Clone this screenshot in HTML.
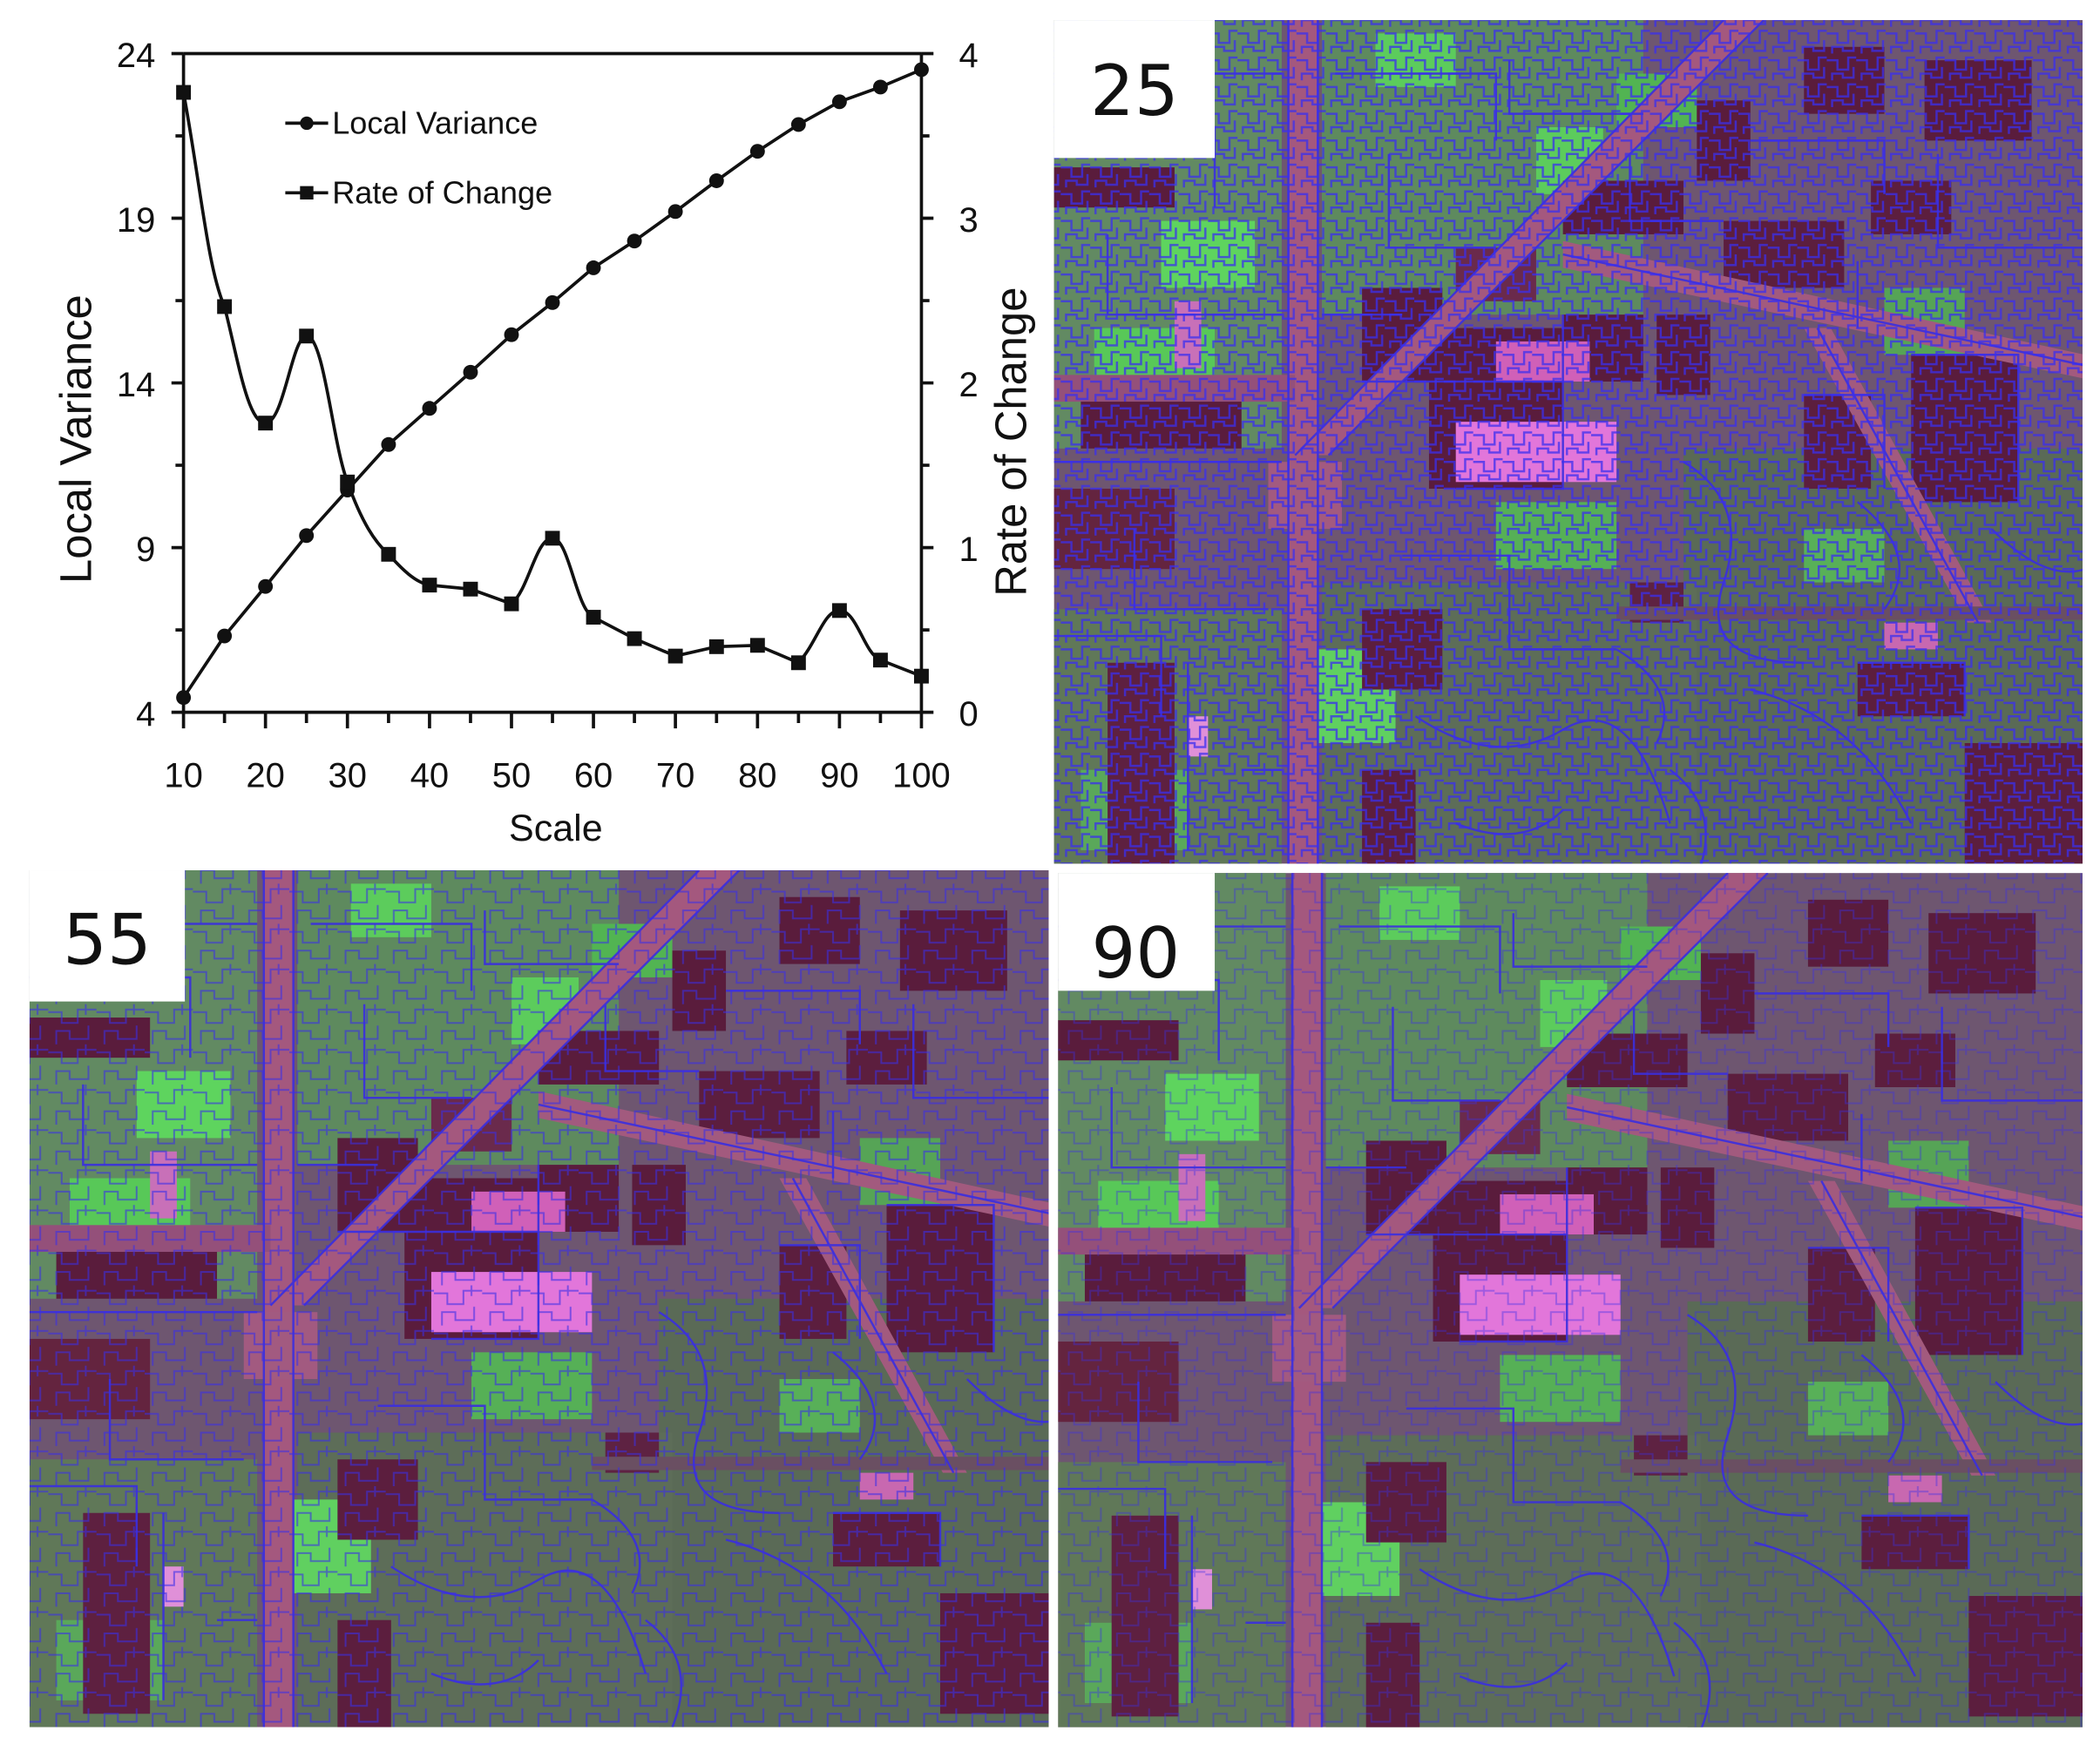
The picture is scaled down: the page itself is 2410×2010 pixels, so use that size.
<!DOCTYPE html>
<html><head><meta charset="utf-8"><style>
html,body{margin:0;padding:0;background:#fff;}
svg{display:block;}
text{font-family:"Liberation Sans",Arial,sans-serif;fill:#111;}
</style></head><body>
<svg width="2410" height="2010" viewBox="0 0 1568 1307.8" xmlns="http://www.w3.org/2000/svg">
<defs>
<pattern id="seg1" width="36" height="30" patternUnits="userSpaceOnUse">
  <path d="M0 6 H10 V14 H22 V4 H36 M6 30 V20 H16 V26 H30 V16 M28 0 V8" fill="none" stroke="#3a2ee8" stroke-width="1.3"/>
</pattern>
<pattern id="seg2" width="22" height="20" patternUnits="userSpaceOnUse">
  <path d="M0 5 H8 V12 H16 V3 H22 M4 20 V15 H12 V18 H20 V10" fill="none" stroke="#3a2ef0" stroke-width="1.6"/>
</pattern>
<g id="scene">
  <rect x="0" y="0" width="770" height="640" fill="#6e5670"/>
  <rect x="0" y="0" width="170" height="320" fill="#628a62"/>
  <rect x="200" y="0" width="240" height="220" fill="#5e8a5e"/>
  <rect x="470" y="320" width="300" height="320" fill="#5a6a56"/>
  <rect x="0" y="440" width="170" height="200" fill="#607858"/>
  <rect x="200" y="420" width="280" height="220" fill="#5d6d58"/>
  <rect x="80" y="150" width="70" height="50" fill="#5ed45e"/>
  <rect x="30" y="230" width="90" height="60" fill="#58c858"/>
  <rect x="360" y="80" width="50" height="50" fill="#5ccc5c"/>
  <rect x="240" y="10" width="60" height="40" fill="#5ccc5c"/>
  <rect x="195" y="470" width="60" height="70" fill="#60d060"/>
  <rect x="420" y="40" width="60" height="40" fill="#52b452"/>
  <rect x="330" y="360" width="90" height="50" fill="#56b056"/>
  <rect x="560" y="380" width="60" height="40" fill="#58b058"/>
  <rect x="20" y="560" width="80" height="60" fill="#5aa85a"/>
  <rect x="620" y="200" width="60" height="50" fill="#56a456"/>
  <rect x="0" y="110" width="90" height="30" fill="#5a1c3c"/>
  <rect x="20" y="280" width="120" height="40" fill="#5a1c3c"/>
  <rect x="0" y="350" width="90" height="60" fill="#64243f"/>
  <rect x="40" y="480" width="50" height="150" fill="#5e2040"/>
  <rect x="230" y="200" width="60" height="70" fill="#5a1c3c"/>
  <rect x="280" y="230" width="100" height="120" fill="#5a1c3c"/>
  <rect x="300" y="170" width="60" height="40" fill="#6a2a4c"/>
  <rect x="380" y="120" width="90" height="40" fill="#5a1c3c"/>
  <rect x="480" y="60" width="40" height="60" fill="#5a1c3c"/>
  <rect x="560" y="20" width="60" height="50" fill="#5a1c3c"/>
  <rect x="650" y="30" width="80" height="60" fill="#5a1c3c"/>
  <rect x="500" y="150" width="90" height="50" fill="#5c1e3e"/>
  <rect x="610" y="120" width="60" height="40" fill="#5c1e3e"/>
  <rect x="380" y="220" width="60" height="50" fill="#5a1c3c"/>
  <rect x="450" y="220" width="40" height="60" fill="#5a1c3c"/>
  <rect x="640" y="250" width="80" height="110" fill="#5a1c3c"/>
  <rect x="560" y="280" width="50" height="70" fill="#5c1e3e"/>
  <rect x="600" y="480" width="80" height="40" fill="#5c1e3e"/>
  <rect x="680" y="540" width="90" height="90" fill="#5c1e3e"/>
  <rect x="230" y="440" width="60" height="60" fill="#5c1e3e"/>
  <rect x="230" y="560" width="40" height="80" fill="#5c1e3e"/>
  <rect x="430" y="420" width="40" height="30" fill="#5e2242"/>
  <rect x="175" y="0" width="22" height="640" fill="#a4587e"/>
  <polygon points="180,325 205,325 530,0 500,0" fill="#a4587e"/>
  <polygon points="380,165 770,250 770,268 380,185" fill="#a25a7e"/>
  <polygon points="560,230 580,230 700,450 682,450" fill="#a25a7e"/>
  <rect x="0" y="265" width="180" height="20" fill="#94507a"/>
  <rect x="420" y="438" width="350" height="10" fill="#6a4f62"/>
  <rect x="160" y="330" width="55" height="50" fill="#a25a80"/>
  <rect x="300" y="300" width="120" height="45" fill="#e276da"/>
  <rect x="330" y="240" width="70" height="30" fill="#d060b8"/>
  <rect x="90" y="210" width="20" height="50" fill="#c870b8"/>
  <rect x="620" y="450" width="40" height="20" fill="#c868b0"/>
  <rect x="100" y="520" width="15" height="30" fill="#e090d8"/>
  <g fill="none" stroke="#3a2ee0" stroke-width="1.6" opacity="0.9">
    <path d="M0 40 H170 M0 80 H120 V140 M40 160 V220 H170 M0 330 H170 M60 380 V440 H160 M0 460 H80 V520 M100 480 V620 M140 560 H170"/>
    <path d="M210 40 H330 V90 M250 100 V170 H330 M200 220 H260 M340 30 V70 H440 M430 100 V150 H500 M520 90 H620 V130 M660 100 V170 H770 M600 180 V230"/>
    <path d="M470 330 Q520 360 500 420 T560 480 M520 500 Q600 520 640 600 M460 560 Q500 590 480 640 M600 360 Q650 400 620 440 M700 380 Q740 420 770 410"/>
    <path d="M260 400 H340 V470 H420 M270 520 Q330 560 380 530 T460 600 M300 600 Q350 620 380 590 M420 470 Q470 500 450 540"/>
    <path d="M175 0 V640 M197 0 V640 M180 325 L500 0 M205 325 L530 0 M380 175 L770 258 M570 230 L690 450"/>
    <path d="M230 270 H380 V350 H300 M380 220 V280 M560 280 H620 V350 M640 250 H720 V360 M600 480 H680 V520"/>
  </g>
</g>
<clipPath id="c1"><rect x="787" y="15" width="768" height="630"/></clipPath>
<clipPath id="c2"><rect x="22" y="650" width="761" height="640"/></clipPath>
<clipPath id="c3"><rect x="790" y="652" width="765" height="638"/></clipPath>
</defs>

<g clip-path="url(#c1)"><use href="#scene" transform="translate(787,15)"/><rect x="787" y="15" width="768" height="630" fill="url(#seg2)" opacity="0.75"/></g>
<rect x="787" y="15" width="120" height="103" fill="#fff"/>
<text x="847" y="86" font-size="52" text-anchor="middle" style="font-family:'DejaVu Sans','Liberation Sans',sans-serif">25</text>

<g clip-path="url(#c2)"><use href="#scene" transform="translate(22,650)"/><rect x="22" y="650" width="761" height="640" fill="url(#seg1)" opacity="0.6"/></g>
<rect x="22" y="650" width="116" height="98" fill="#fff"/>
<text x="80" y="720" font-size="52" text-anchor="middle" style="font-family:'DejaVu Sans','Liberation Sans',sans-serif">55</text>

<g clip-path="url(#c3)"><use href="#scene" transform="translate(790,652)"/><rect x="790" y="652" width="765" height="638" fill="url(#seg1)" opacity="0.4"/></g>
<rect x="790" y="652" width="117" height="88" fill="#fff"/>
<text x="848" y="730" font-size="52" text-anchor="middle" style="font-family:'DejaVu Sans','Liberation Sans',sans-serif">90</text>

<g stroke="#111" stroke-width="2.4" fill="none">
  <path d="M137 40 H688 M137 40 V532 H688 V40"/>
  <path d="M137 40 h-9 M137 101.5 h-6 M137 163 h-9 M137 224.5 h-6 M137 286 h-9 M137 347.5 h-6 M137 409 h-9 M137 470.5 h-6 M137 532 h-9"/>
  <path d="M688 40 h9 M688 101.5 h6 M688 163 h9 M688 224.5 h6 M688 286 h9 M688 347.5 h6 M688 409 h9 M688 470.5 h6 M688 532 h9"/>
  <path d="M137 532v12 M167.6 532v8 M198.2 532v12 M228.8 532v8 M259.4 532v12 M290.1 532v8 M320.7 532v12 M351.3 532v8 M381.9 532v12 M412.5 532v8 M443.1 532v12 M473.7 532v8 M504.3 532v12 M535 532v8 M565.6 532v12 M596.2 532v8 M626.8 532v12 M657.4 532v8 M688 532v12"/>
  <polyline points="137,521 167.6,475 198.2,438 228.8,400 259.4,366 290.1,332 320.7,305 351.3,278 381.9,250 412.5,226 443.1,200 473.7,180 504.3,158 535,135 565.6,113 596.2,93 626.8,76 657.4,65 688,52"/>
  <path d="M137 69 C150 140 155 200 167.6 229 C178 270 185 316 198.2 316 C212 316 218 251 228.8 251 C242 251 248 330 259.4 360 C270 390 280 405 290.1 414 C300 425 310 435 320.7 437 L351.3 440 L381.9 451 C395 440 400 402 412.5 402 C425 402 430 455 443.1 461 L473.7 477 L504.3 490 L535 483 L565.6 482 L596.2 495 C610 480 615 456 626.8 456 C640 456 645 488 657.4 493 L688 505"/>
</g>
<g fill="#111">
  <circle cx="137" cy="521" r="5.5"/><circle cx="167.6" cy="475" r="5.5"/><circle cx="198.2" cy="438" r="5.5"/><circle cx="228.8" cy="400" r="5.5"/><circle cx="259.4" cy="366" r="5.5"/><circle cx="290.1" cy="332" r="5.5"/><circle cx="320.7" cy="305" r="5.5"/><circle cx="351.3" cy="278" r="5.5"/><circle cx="381.9" cy="250" r="5.5"/><circle cx="412.5" cy="226" r="5.5"/><circle cx="443.1" cy="200" r="5.5"/><circle cx="473.7" cy="180" r="5.5"/><circle cx="504.3" cy="158" r="5.5"/><circle cx="535" cy="135" r="5.5"/><circle cx="565.6" cy="113" r="5.5"/><circle cx="596.2" cy="93" r="5.5"/><circle cx="626.8" cy="76" r="5.5"/><circle cx="657.4" cy="65" r="5.5"/><circle cx="688" cy="52" r="5.5"/>
  <rect x="131.5" y="63.5" width="11" height="11"/><rect x="162.1" y="223.5" width="11" height="11"/><rect x="192.7" y="310.5" width="11" height="11"/><rect x="223.3" y="245.5" width="11" height="11"/><rect x="253.9" y="354.5" width="11" height="11"/><rect x="284.6" y="408.5" width="11" height="11"/><rect x="315.2" y="431.5" width="11" height="11"/><rect x="345.8" y="434.5" width="11" height="11"/><rect x="376.4" y="445.5" width="11" height="11"/><rect x="407" y="396.5" width="11" height="11"/><rect x="437.6" y="455.5" width="11" height="11"/><rect x="468.2" y="471.5" width="11" height="11"/><rect x="498.8" y="484.5" width="11" height="11"/><rect x="529.5" y="477.5" width="11" height="11"/><rect x="560.1" y="476.5" width="11" height="11"/><rect x="590.7" y="489.5" width="11" height="11"/><rect x="621.3" y="450.5" width="11" height="11"/><rect x="651.9" y="487.5" width="11" height="11"/><rect x="682.5" y="499.5" width="11" height="11"/>
</g>
<g stroke="#111" stroke-width="2.4"><path d="M213 92 H245 M213 144 H245"/></g>
<circle cx="229" cy="92" r="5" fill="#111"/>
<rect x="224" y="139" width="10" height="10" fill="#111"/>
<text x="248" y="100" font-size="23.5">Local Variance</text>
<text x="248" y="152" font-size="23.5">Rate of Change</text>
<g font-size="26" text-anchor="end">
  <text x="116" y="50">24</text><text x="116" y="173">19</text><text x="116" y="296">14</text><text x="116" y="419">9</text><text x="116" y="542">4</text>
</g>
<g font-size="26" text-anchor="start">
  <text x="716" y="50">4</text><text x="716" y="173">3</text><text x="716" y="296">2</text><text x="716" y="419">1</text><text x="716" y="542">0</text>
</g>
<g font-size="26" text-anchor="middle">
  <text x="137" y="588">10</text><text x="198.2" y="588">20</text><text x="259.4" y="588">30</text><text x="320.7" y="588">40</text><text x="381.9" y="588">50</text><text x="443.1" y="588">60</text><text x="504.3" y="588">70</text><text x="565.6" y="588">80</text><text x="626.8" y="588">90</text><text x="688" y="588">100</text>
</g>
<text x="415" y="628" font-size="28" text-anchor="middle">Scale</text>
<text transform="translate(68,328) rotate(-90)" font-size="33" text-anchor="middle">Local Variance</text>
<text transform="translate(766,330) rotate(-90)" font-size="33" text-anchor="middle">Rate of Change</text>
</svg>
</body></html>
